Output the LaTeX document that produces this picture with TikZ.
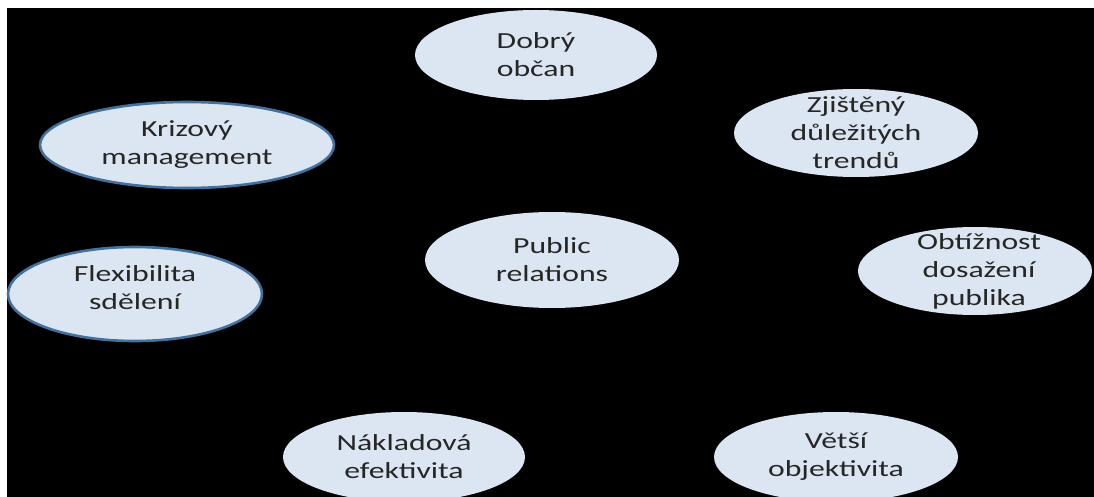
\documentclass[tikz,border=0pt]{standalone}
\usepackage{fontspec}
\setmainfont{Carlito}[FakeStretch=1.38]
\usetikzlibrary{shapes.geometric}

\definecolor{bubblefill}{HTML}{DCE6F2}
\definecolor{bubblerim}{HTML}{41719C}
\definecolor{inktext}{HTML}{262626}

\begin{document}
\begin{tikzpicture}[x=1pt,y=-1pt,
    bubble/.style={ellipse, fill=bubblefill, draw=none, inner sep=0pt},
    rimmed/.style={bubble, draw=bubblerim, line width=2.6pt},
    txt/.style={align=center, text=inktext, font=\fontsize{23}{28}\selectfont, inner sep=0pt}]

% page and black background
\useasboundingbox (0,0) rectangle (1094,497);
\clip (0,0) rectangle (1094,497);
\fill[white] (0,0) rectangle (1094,497);
\fill[black] (7,8) rectangle (1094,497);

%%%%%%%%%%%%%%%%%%%% Bubbles %%%%%%%%%%%%%%%%%%%%%%%%%%

%plain bubbles
\foreach \nm/\x/\y/\rx/\ry in {dobry/536/55/121/45, trendy/856/133/122/44,
    publikum/975/271/117/44, pr/552/260/127/48,
    naklady/404/457/121/45, objekt/836/457/122/45}
{
    \node[bubble, minimum width=2*\rx, minimum height=2*\ry] (\nm) at (\x,\y) {};
}

%bubbles with a rim
\node[rimmed, minimum width=294, minimum height=86] (krize) at (187,145) {};
\node[rimmed, minimum width=254, minimum height=94] (flex) at (135,294) {};

%texts
\node[txt] (dobry-t) at (dobry) {Dobrý\\občan};
\node[txt] (trendy-t) at (trendy) {Zjištěný\\důležitých\\trendů};
\node[txt] (publikum-t) at ([xshift=4]publikum.center) {Obtížnost\\dosažení\\publika};
\node[txt] (pr-t) at (pr) {Public\\relations};
\node[txt] (naklady-t) at (naklady) {Nákladová\\efektivita};
\node[txt] (objekt-t) at (objekt) {Větší\\objektivita};
\node[txt] (krize-t) at (krize) {Krizový\\management};
\node[txt] (flex-t) at ([yshift=6]flex.center) {Flexibilita\\sdělení};

\end{tikzpicture}
\end{document}
